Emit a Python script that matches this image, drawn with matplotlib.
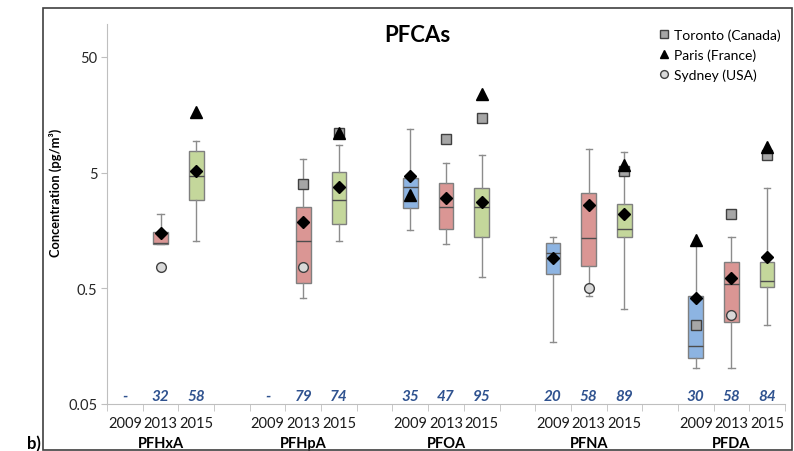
import numpy as np
import matplotlib
matplotlib.use('Agg')
import matplotlib.pyplot as plt
from matplotlib.patches import Rectangle
import matplotlib.transforms as mtransforms

plt.rcParams['font.family'] = ['Lato', 'DejaVu Sans']

nan = np.nan
compounds = ['PFHxA', 'PFHpA', 'PFOA', 'PFNA', 'PFDA']
years = ['2009', '2013', '2015']
n_labels = [['-', '32', '58'], ['-', '79', '74'], ['35', '47', '95'],
            ['20', '58', '89'], ['30', '58', '84']]

# box statistics per compound, per year (2009, 2013, 2015)
q1 = [[nan, 1.20, 2.88], [nan, 0.56, 1.78], [2.47, 1.62, 1.40],
      [0.67, 0.78, 1.39], [0.124, 0.254, 0.516]]
med = [[nan, 1.24, 4.69], [nan, 1.29, 2.88], [3.75, 2.50, 2.52],
       [1.01, 1.35, 1.61], [0.157, 0.54, 0.58]]
q3 = [[nan, 1.54, 7.6], [nan, 2.50, 5.1], [4.48, 4.06, 3.68],
      [1.24, 3.33, 2.65], [0.43, 0.836, 0.836]]
whislo = [[nan, 1.20, 1.29], [nan, 0.41, 1.29], [1.59, 1.21, 0.63],
          [0.171, 0.43, 0.33], [0.102, 0.102, 0.241]]
whishi = [[nan, 2.21, 9.4], [nan, 6.5, 8.7], [11.9, 6.1, 7.1],
          [1.39, 8.0, 7.5], [1.25, 1.39, 3.68]]
means = [[nan, 1.51, 5.15], [nan, 1.87, 3.77], [4.69, 3.03, 2.79],
         [0.905, 2.60, 2.21], [0.41, 0.617, 0.936]]

# city values
toronto = [[nan, nan, nan], [nan, 3.95, 10.9], [nan, 9.8, 14.8],
           [nan, nan, 5.15], [0.241, 2.18, 7.1]]
paris = [[nan, nan, 16.6], [nan, nan, 10.9], [3.18, nan, 23.9],
         [nan, nan, 5.84], [1.30, nan, 8.3]]
sydney = [[nan, 0.77, nan], [nan, 0.77, nan], [nan, nan, nan],
          [nan, 0.5, nan], [nan, 0.294, nan]]

year_colors = ['#8DB4E2', '#DA9694', '#C4D79B']

W, H = 794, 452
fig = plt.figure(figsize=(W / 100, H / 100), dpi=100)
ax = fig.add_axes([107 / W, 1 - 405 / H, (785 - 107) / W, (405 - 25) / H])

stats, positions, colors = [], [], []
for g in range(len(compounds)):
    for k in range(len(years)):
        if np.isnan(med[g][k]):
            continue
        stats.append(dict(q1=q1[g][k], med=med[g][k], q3=q3[g][k],
                          whislo=whislo[g][k], whishi=whishi[g][k],
                          mean=means[g][k], fliers=[]))
        positions.append(g * 4 + k)
        colors.append(year_colors[k])

bp = ax.bxp(stats, positions=positions, widths=0.41, capwidths=0.17,
            patch_artist=True, showmeans=True, showfliers=False,
            boxprops=dict(edgecolor='#7F7F7F', linewidth=1.0),
            whiskerprops=dict(color='#8C8C8C', linewidth=1.0),
            capprops=dict(color='#8C8C8C', linewidth=1.0),
            medianprops=dict(color='#4D4D4D', linewidth=1.0),
            meanprops=dict(marker='D', markerfacecolor='black',
                           markeredgecolor='black', markersize=6.5))
for patch, c in zip(bp['boxes'], colors):
    patch.set_facecolor(c)
for m in bp['means']:
    m.set_zorder(4)

xs = [g * 4 + k for g in range(len(compounds)) for k in range(len(years))]
flat = lambda a: [v for row in a for v in row]
ax.plot(xs, flat(toronto), ls='none', marker='s', ms=7.5, mfc='#A6A6A6',
        mec='#404040', mew=1.0, zorder=5, label='Toronto (Canada)')
ax.plot(xs, flat(paris), ls='none', marker='^', ms=8, mfc='black',
        mec='black', zorder=6, label='Paris (France)')
ax.plot(xs, flat(sydney), ls='none', marker='o', ms=7, mfc='#D9D9D9',
        mec='#404040', mew=1.0, zorder=5, label='Sydney (USA)')

ax.set_yscale('log')
ax.set_ylim(0.05, 96)
ax.set_xlim(-0.5, 18.5)
ax.set_yticks([0.05, 0.5, 5, 50])
ax.set_yticklabels(['0.05', '0.5', '5', '50'])
ax.yaxis.set_minor_locator(matplotlib.ticker.NullLocator())
ax.tick_params(axis='y', length=4, color='#BFBFBF', labelsize=10.5,
               labelcolor='#262626', pad=3)

ax.set_xticks(xs)
ax.set_xticklabels([years[k] for g in range(len(compounds)) for k in range(len(years))])
ax.set_xticks(np.arange(-0.5, 19, 1), minor=True)
ax.tick_params(axis='x', which='major', length=0, pad=9, labelsize=10.5,
               labelcolor='#1A1A1A')
ax.tick_params(axis='x', which='minor', length=5, color='#BFBFBF')

for s in ['top', 'right']:
    ax.spines[s].set_visible(False)
for s in ['left', 'bottom']:
    ax.spines[s].set_color('#BFBFBF')

trans = mtransforms.blended_transform_factory(ax.transData, ax.transAxes)
for g, name in enumerate(compounds):
    ax.text(g * 4 + 1, -0.103, name, transform=trans, ha='center', va='center',
            fontsize=10.5, fontweight='bold')
    for k in range(len(years)):
        ax.text(g * 4 + k, 0.022, n_labels[g][k], transform=trans, ha='center',
                va='center', fontsize=11, fontweight='bold', fontstyle='italic',
                color='#2F528F')

fig.text(417 / W, 1 - 36 / H, 'PFCAs', ha='center', va='center',
         fontsize=16, fontweight='bold')
fig.text(55 / W, 1 - 193 / H, 'Concentration (pg/m³)', rotation=90,
         ha='center', va='center', fontsize=9.3, fontweight='bold')
fig.text(41 / W, 1 - 436 / H, 'b)', ha='right', va='top', fontsize=12,
         fontweight='bold')

leg = ax.legend(loc='upper left', bbox_to_anchor=(659 / W, 1 - 29 / H),
                bbox_transform=fig.transFigure, frameon=False, fontsize=10,
                handlelength=0.7, handletextpad=0.35, labelspacing=0.55,
                borderaxespad=0, borderpad=0, markerscale=0.8)

fig.patches.append(Rectangle((43 / W, 1 / H), (792 - 43) / W, (451 - 9) / H,
                             transform=fig.transFigure, fill=False,
                             edgecolor='#404040', linewidth=1.2))

fig.savefig('out.png', dpi=100)
